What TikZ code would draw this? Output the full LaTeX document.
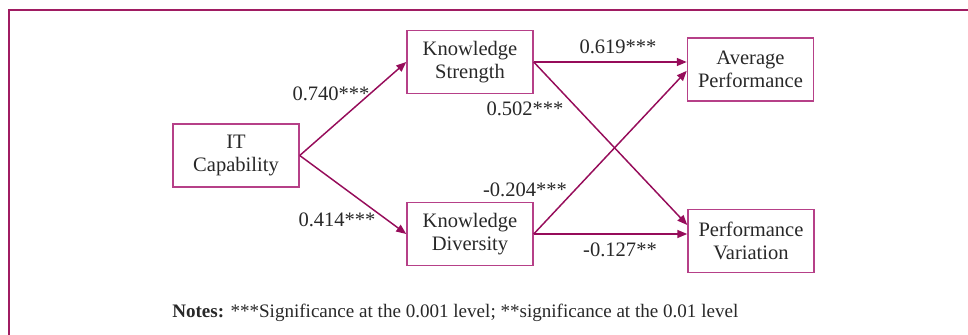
\documentclass[tikz,border=0pt]{standalone}
\usepackage{fontspec}
\setmainfont{Liberation Serif}
\usetikzlibrary{arrows.meta, calc}

\definecolor{framecol}{RGB}{160,28,98}
\definecolor{boxcol}{RGB}{182,64,136}
\definecolor{arrowcol}{RGB}{150,12,90}
\definecolor{textcol}{RGB}{40,40,40}

\tikzset{
  varbox/.style={draw=boxcol, line width=1.1pt, minimum width=94.5pt, minimum height=47pt,
    align=center, inner sep=0pt, text=textcol, font=\fontsize{15.4}{17.3}\selectfont},
  coef/.style={text=textcol, inner sep=0pt, font=\fontsize{15.4}{17.3}\selectfont},
  path/.style={draw=arrowcol, line width=1.1pt, -{Triangle[length=7.5pt, width=6pt]}}
}

\begin{document}
\begin{tikzpicture}[x={(0.75pt,0)}, y={(0,-0.75pt)}]

\useasboundingbox (0,0) rectangle (968,335);

% Frame
        \draw[framecol, line width=2pt] (9,340) -- (9,10) -- (975,10);

% Variables
        \node[varbox] (itcap) at (236,155.5) {IT\\Capability};
        \node[varbox] (kstr) at (470,62) {Knowledge\\Strength};
        \node[varbox] (kdiv) at (470,234) {Knowledge\\Diversity};
        \node[varbox] (avgperf) at (750.5,69.5) {Average\\Performance};
        \node[varbox] (perfvar) at (751,241) {Performance\\Variation};

% Paths
        \draw[path] (itcap.east) -- (kstr.west);
        \draw[path] (itcap.east) -- (kdiv.west);
        \draw[path] (kstr.east) -- (kstr.east -| avgperf.west);
        \draw[path] (kdiv.east) -- (kdiv.east -| perfvar.west);
        \draw[path] (kstr.east) -- ([yshift=12pt]perfvar.west);
        \draw[path] (kdiv.east) -- ([yshift=-1pt]avgperf.west);

% Coefficients
        \node[coef] (c740) at (331,94) {0.740***};
        \node[coef] (c414) at (337,220) {0.414***};
        \node[coef] (c619) at (618,47) {0.619***};
        \node[coef] (c502) at (525,109) {0.502***};
        \node[coef] (c204) at (525,190) {-0.204***};
        \node[coef] (c127) at (620,250) {-0.127**};

% Notes
        \node[anchor=base west, text=textcol, inner sep=0pt, font=\fontsize{14.3}{16}\selectfont] (notes) at (172,317)
          {\textbf{Notes:} ***Significance at the 0.001 level; **significance at the 0.01 level};

\end{tikzpicture}
\end{document}
